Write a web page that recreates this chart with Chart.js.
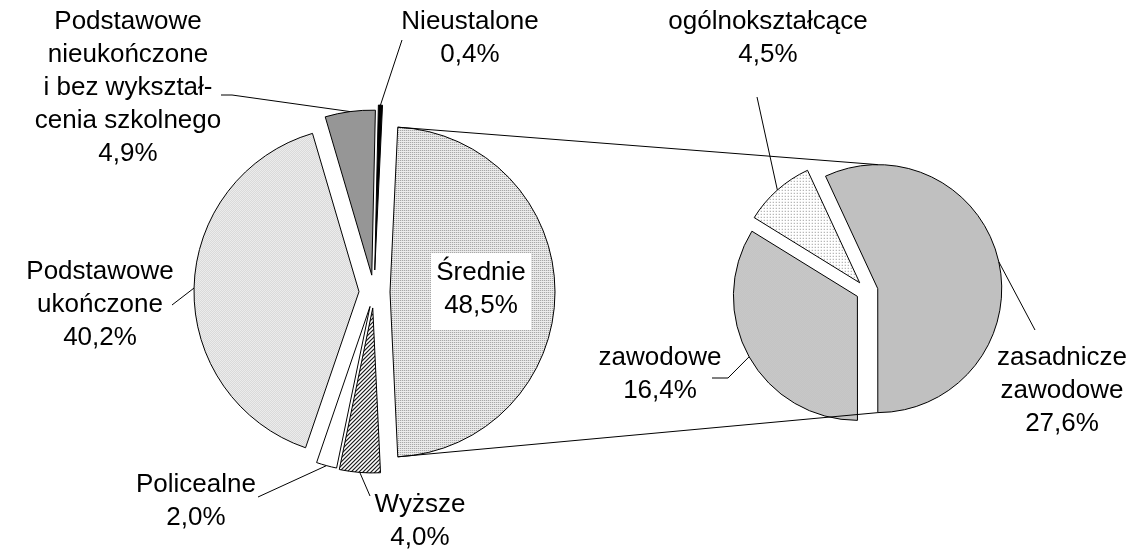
<!DOCTYPE html>
<html>
<head>
<meta charset="utf-8">
<script src="https://cdn.jsdelivr.net/npm/chart.js@4.4.0/dist/chart.umd.min.js"></script>
<style>
  html,body{margin:0;padding:0;background:#fff;}
  #wrap{position:relative;width:1141px;height:550px;}
  #wrap canvas{position:absolute;left:0;top:0;}
</style>
</head>
<body>
<div id="wrap">
  <canvas id="mainC" width="1141" height="550"></canvas>
  <canvas id="subC" width="1141" height="550"></canvas>
</div>
<script>
'use strict';

// main pie (Średnie first, going clockwise)
const mainLabels = ['Średnie','Wyższe','Policealne','Podstawowe\nukończone','Podstawowe\nnieukończone\ni bez wykształ-\ncenia szkolnego','Nieustalone'];
const mainValues = [48.5,4.0,2.0,40.2,4.9,0.4];
// secondary pie (breakdown of Średnie)
const subLabels = ['ogólnokształcące','zasadnicze\nzawodowe','zawodowe'];
const subValues = [4.5,27.6,16.4];

const FONT = '26px "Liberation Sans", Arial, sans-serif';
const pct = v => v.toFixed(1).replace('.',',') + '%';

function pat(w,h,draw){
  const c=document.createElement('canvas'); c.width=w; c.height=h;
  const g=c.getContext('2d'); g.fillStyle='#fff'; g.fillRect(0,0,w,h); draw(g);
  return document.getElementById('mainC').getContext('2d').createPattern(c,'repeat');
}
const px=(g,col,pts)=>{ g.fillStyle=col; pts.forEach(([x,y])=>g.fillRect(x,y,1,1)); };

const P = {
  sred: pat(2,2,g=>{ px(g,'#a8a8a8',[[0,0]]); px(g,'#dcdcdc',[[1,0]]); px(g,'#ececec',[[0,1],[1,1]]); }),
  wyz:  pat(4,4,g=>{ px(g,'#000',[[3,0],[2,1],[1,2],[0,3]]); px(g,'#8a8a8a',[[0,0],[3,1],[2,2],[1,3]]); }),
  ukon: pat(2,2,g=>{ px(g,'#c8c8c8',[[0,0],[1,1]]); }),
  ogol: pat(3,3,g=>{ px(g,'#8c8c8c',[[0,0]]); }),
  zawo: pat(2,2,g=>{ px(g,'#9a9a9a',[[0,0],[1,1]]); px(g,'#f2f2f2',[[1,0],[0,1]]); })
};
const mainColors = [P.sred,P.wyz,'#ffffff',P.ukon,'#969696','#000000'];
const subColors  = [P.ogol,'#c0c0c0',P.zawo];

// how far each slice is pulled out (px)
const mainExplode = [16,16,15,15,17,22];
const subExplode  = [11,11,11];

const explode = {
  id:'explode',
  beforeDatasetsDraw(chart,args,opts){
    const ctx=chart.ctx;
    chart.getDatasetMeta(0).data.forEach((arc,i)=>{
      const m=(arc.startAngle+arc.endAngle)/2, e=opts.dist[i]||0;
      ctx.save(); ctx.translate(Math.cos(m)*e,Math.sin(m)*e); arc.draw(ctx); ctx.restore();
    });
    return false;
  }
};

// point on the outer edge of an exploded slice
function edge(chart,dist,i,ang){
  const a=chart.getDatasetMeta(0).data[i];
  const m=(a.startAngle+a.endAngle)/2, e=dist[i];
  if(ang===undefined) ang=m;
  return [a.x+Math.cos(m)*e+Math.cos(ang)*a.outerRadius, a.y+Math.sin(m)*e+Math.sin(ang)*a.outerRadius];
}

// label blocks: centre x, first line y, leader start points
const mainLabelPos = [
  {x:481,y:273,box:true},
  {x:420,y:505,lead:[[370,496]]},
  {x:196,y:485,lead:[[258,497]]},
  {x:100,y:272,lead:[[172,305]]},
  {x:128,y:22,lead:[[221,95],[232,95]]},
  {x:470,y:22,lead:[[402,40]]}
];
const subLabelPos = [
  {x:768,y:22,lead:[[757,97]]},
  {x:1062,y:358,lead:[[1035,330]]},
  {x:660,y:358,lead:[[712,378],[728,378]]}
];
const LH = 33;

let mainChart=null;

function textBlock(ctx,label,val,p){
  const lines=label.split('\n').concat(pct(val));
  ctx.font=FONT; ctx.textAlign='center'; ctx.textBaseline='middle';
  if(p.box){
    ctx.fillStyle='#fff';
    ctx.fillRect(p.x-50,p.y-20,100,LH*lines.length+11);
  }
  ctx.fillStyle='#000';
  lines.forEach((t,k)=>ctx.fillText(t,p.x,p.y+k*LH));
}
function leader(ctx,pts){
  ctx.beginPath(); ctx.moveTo(pts[0][0],pts[0][1]);
  pts.slice(1).forEach(q=>ctx.lineTo(q[0],q[1]));
  ctx.strokeStyle='#000'; ctx.lineWidth=1; ctx.stroke();
}

const annot = {
  id:'annot',
  afterDraw(chart){
    const ctx=chart.ctx;
    ctx.save();
    // connectors between Średnie and the second pie
    const a0=mainChart.getDatasetMeta(0).data[0];
    const b1=chart.getDatasetMeta(0).data[1];
    leader(ctx,[edge(mainChart,mainExplode,0,a0.startAngle),edge(chart,subExplode,1,-Math.PI/2)]);
    leader(ctx,[edge(mainChart,mainExplode,0,a0.endAngle),edge(chart,subExplode,1,b1.endAngle)]);
    mainLabels.forEach((l,i)=>{
      const p=mainLabelPos[i];
      if(p.lead) leader(ctx,p.lead.concat([edge(mainChart,mainExplode,i)]));
      textBlock(ctx,l,mainValues[i],p);
    });
    subLabels.forEach((l,i)=>{
      const p=subLabelPos[i];
      if(p.lead) leader(ctx,p.lead.concat([edge(chart,subExplode,i)]));
      textBlock(ctx,l,subValues[i],p);
    });
    ctx.restore();
  }
};

const base = (pad,r,rot,dist)=>({
  responsive:false, animation:false, radius:r, rotation:rot,
  layout:{padding:pad},
  plugins:{legend:{display:false},tooltip:{enabled:false},explode:{dist}}
});

mainChart = new Chart(document.getElementById('mainC'),{
  type:'pie',
  data:{labels:mainLabels,datasets:[{data:mainValues,backgroundColor:mainColors,borderColor:'#000',borderWidth:1}]},
  options:base({left:174,right:567,top:92,bottom:58},165,90-mainValues[0]*3.6/2,mainExplode),
  plugins:[explode]
});

new Chart(document.getElementById('subC'),{
  type:'pie',
  data:{labels:subLabels,datasets:[{data:subValues,backgroundColor:subColors,borderColor:'#000',borderWidth:1}]},
  options:base({left:717,right:124,top:141,bottom:109},124,-58.3,subExplode),
  plugins:[explode,annot]
});
</script>
</body>
</html>
